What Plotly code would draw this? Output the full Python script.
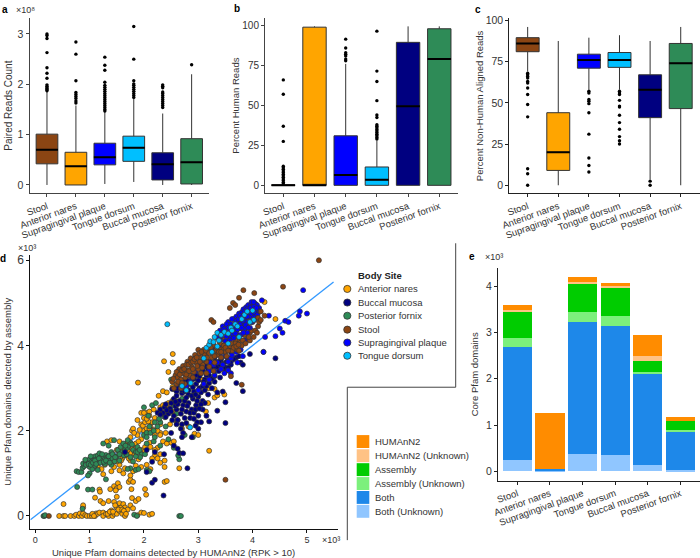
import plotly.graph_objects as go

W, H = 700, 558
SITES = ["Stool", "Anterior nares", "Supragingival plaque", "Tongue dorsum", "Buccal mucosa", "Posterior fornix"]
COLORS = ["#8B4513", "#FFA500", "#0000FF", "#00BFFF", "#000080", "#2E8B57"]

# panel a (x 1e8)
a_q1 = [0.42, 0.0, 0.40, 0.47, 0.10, 0.02]
a_med = [0.70, 0.37, 0.55, 0.74, 0.41, 0.45]
a_q3 = [1.01, 0.65, 0.83, 0.97, 0.64, 0.92]
a_low = [0.0, 0.0, 0.02, 0.06, 0.0, 0.0]
a_up = [1.85, 1.58, 1.45, 1.72, 1.42, 2.20]
a_out = [
    [1.87, 1.89, 1.91, 1.93, 1.96, 1.99, 2.12, 2.22, 2.33, 2.63, 2.91, 2.97, 3.0],
    [1.63, 1.67, 1.72, 1.76, 1.80, 1.84, 2.07, 2.60, 2.84],
    [1.47, 1.50, 1.54, 1.58, 1.62, 1.66, 1.70, 1.74, 1.78, 1.82, 1.86, 1.90, 1.94, 1.98, 2.04, 2.28, 2.38, 2.54],
    [1.74, 1.78, 1.82, 1.86, 1.90, 1.94, 1.98, 2.01, 2.07, 2.50, 3.15],
    [1.54, 1.58, 1.62, 1.66, 1.70, 1.74, 1.78, 1.82, 1.85, 1.93, 1.96, 1.99],
    [2.39],
]
# panel b (%)
b_q1 = [0, 0, 0, 0, 0, 0]
b_med = [0.1, 0.1, 6.5, 3.5, 49.5, 79]
b_q3 = [0.3, 99, 31, 11.5, 89.5, 98]
b_low = [0, 0, 0, 0, 0, 0]
b_up = [0.8, 99.5, 76, 28, 99.5, 99.5]
b_out = [
    [1, 2, 3, 4, 5, 6, 7, 8, 9, 10, 11, 12, 27.5, 37, 57, 66],
    [],
    [78, 79, 81, 82, 83, 86, 91.5],
    [29, 30, 31, 32, 33, 34, 35, 36, 37, 38, 42.5, 44, 53, 65, 71.5, 96.5],
    [],
    [],
]
# panel c (%)
c_q1 = [81, 9, 71, 71.5, 41, 46.5]
c_med = [86, 20, 76, 76, 58, 74]
c_q3 = [89.5, 44, 79.5, 80.5, 67, 86]
c_low = [69, 0, 58, 58, 3.5, 0]
c_up = [96, 87.5, 89.5, 91, 87.5, 96]
c_out = [
    [68, 67, 66, 65, 63, 62, 59, 55, 49, 41.5, 10, 7, 0],
    [],
    [57, 56, 52, 51, 49.5, 44, 31, 16.5, 12, 8],
    [57, 56, 55, 51.5, 48, 47.5, 42.5, 38, 34, 29.5, 27, 25],
    [2.5, 0],
    [],
]

# panel d (x 1e3): (HUMAnN2, assembly)
anterior_pts = [
 (0.44,0),(0.52,0),(0.55,0),(0.65,0),(0.72,0),(0.75,0.03),(0.8,0),(0.82,0.06),(0.86,0),(0.88,0.06),(0.88,0.2),(0.88,0.25),
 (0.92,0.02),(0.95,0),(1.0,0),(1.04,0),(1.1,0),(1.12,0.06),(1.15,0.05),(1.18,0.08),(1.25,0.08),(1.25,0),(1.3,0.05),(1.35,0),
 (1.38,0.08),(1.4,0.13),(1.42,0),(1.45,0.05),(1.5,0.05),(1.5,0.2),(1.55,0.12),(1.55,0.3),(1.58,0.2),(1.6,0.05),(1.62,0.28),
 (1.65,0),(1.65,0.2),(1.7,0.15),(1.75,0.25),(1.78,0.42),(1.8,0.18),(1.85,0.35),(1.88,0.02),(1.9,0.4),(1.95,0.08),(2.0,0.07),
 (2.1,0.03),(2.15,0.05),(0.52,0.28),(1.1,0.43),(1.2,0.35),(1.25,0.3),(1.35,0.35),(1.45,0.33),(1.5,0.45),(1.18,0.62),(1.19,0.57),
 (1.38,0.63),(1.45,0.7),(1.5,0.65),(1.52,0.77),(1.55,0.68),(1.48,0.6),(1.72,0.8),(1.75,0.85),(1.8,0.8),(1.75,0.95),(1.77,0.63),
 (2.02,0.63),(2.04,0.5),(2.38,0.8),(2.42,0.82),(1.25,0.98),(1.4,1.05),(1.55,1.07),(1.62,1.0),(1.65,1.12),(1.8,1.05),(1.75,1.3),
 (1.55,1.2),(1.6,1.35),(1.45,1.15),(1.28,1.2),(1.15,1.15),(1.22,1.1),(1.42,1.45),(1.55,1.45),(1.62,1.62),(1.75,1.48),(1.7,1.72),
 (1.83,1.45),(1.9,1.33),(1.95,1.55),(2.02,1.52),(1.85,1.7),(1.75,1.85),(1.78,2.0),(1.8,2.05),(1.88,1.9),(1.95,1.8),(2.0,2.0),
 (1.88,2.25),(1.95,2.15),(2.0,2.3),(2.05,2.42),(2.1,2.45),(2.15,2.2),(2.2,2.3),(2.12,2.1),(2.2,1.9),(2.3,1.95),(2.4,1.95),(2.48,2.15),
 (2.45,1.78),(2.5,1.72),(2.55,1.75),(2.25,1.6),(2.2,1.42),(2.3,1.25),(2.38,1.15),(2.15,1.35),(2.38,1.3),(2.65,1.12),(3.2,1.53),
 (1.89,3.13),(2.37,3.63),(2.53,3.8),(2.53,3.6),(2.45,3.38),(2.35,2.93),(2.42,2.9),(2.27,2.82),(2.53,3.03),(2.55,2.98),(2.1,2.35),
 (2.18,2.5),(2.3,2.55),(2.42,2.58),(2.6,2.2),(2.7,2.05),(2.82,2.1),(2.62,2.25),(2.93,1.93),(3.0,1.9),(3.14,2.45),(3.18,2.65),
 (3.3,2.78),(3.48,2.85),(3.35,2.83),(3.07,3.2),(4.42,4.62),(4.22,5.02),(1.32,1.75),(1.4,1.78),(1.5,1.55),(1.68,1.5),(2.1,1.72),
 (2.05,2.05),(2.3,2.15),(2.55,2.45),(3.2,3.0),(3.3,2.98),
 (1.55,1.75),(1.6,1.55),(1.7,1.55),(1.78,1.6),(1.85,1.58),(1.9,1.75),(1.82,1.95),(1.92,2.02),(1.98,2.12),(2.02,2.2),(2.08,2.22),
 (2.05,2.28),(1.95,2.42),(2.0,2.42),(2.1,2.05),(2.18,2.02),(2.25,2.0),(2.3,1.9),(2.35,1.75),(2.42,1.7),(1.65,1.42),(1.72,1.35),
 (1.58,1.3),(1.5,1.28),(1.42,1.3),(1.85,1.18),(1.95,1.15),(2.05,1.2),(2.12,1.1),(2.25,1.35),(2.3,1.45),(2.2,1.55),(2.12,1.62),
 (2.02,1.62),(2.35,2.6),(2.45,2.65),(2.52,2.7),(2.6,2.68),(1.05,0.05),(1.08,0),(1.33,0.05),(1.37,0.1),(1.43,0.1),(1.47,0.25),
 (1.53,0.15),(1.6,0.15),(1.63,0.12),(1.67,0.05),
]
fornix_pts = [
 (0.76,1.05),(0.8,1.03),(0.85,1.03),(0.87,1.13),(0.9,1.17),(0.88,1.23),(0.93,1.25),(0.96,1.3),(1.0,1.33),(1.03,1.27),(1.06,1.35),
 (1.1,1.4),(1.13,1.33),(1.15,1.42),(1.18,1.47),(1.2,1.37),(1.22,1.3),(1.25,1.4),(1.28,1.33),(1.3,1.43),(1.33,1.38),(1.35,1.3),
 (1.38,1.42),(1.4,1.5),(1.42,1.35),(1.46,1.28),(1.5,1.4),(1.52,1.55),(1.55,1.3),(1.6,1.5),(1.65,1.55),(1.7,1.6),(1.72,1.65),
 (1.75,1.72),(1.8,1.55),(1.85,1.5),(1.88,1.62),(1.95,1.45),(1.25,1.7),(1.35,1.65),(1.45,1.78),(1.0,1.15),(1.05,1.1),(1.0,1.0),
 (0.97,0.95),(1.1,1.18),(1.15,1.08),(0.97,0.62),(1.05,0.62),(0.77,0.68),(1.3,0.86),(0.15,0),(0.17,0),(0.18,0.02),(2.65,0),(2.68,0),
 (1.82,0.03),(1.87,0),(0.87,0.17),(1.75,1.12),(1.85,1.08),(1.9,1.1),(2.05,1.08),(2.1,1.05),(2.0,1.9),(2.05,1.95),(2.1,2.1),
 (2.25,2.1),(2.3,2.2),(2.0,2.55),(2.08,2.35),(2.15,2.6),(2.22,2.65),(2.4,2.1),(2.45,1.8),(2.65,1.33),(2.63,1.42),(2.55,1.6),
 (2.75,1.9),(2.9,1.85),(2.5,3.2),(2.63,3.4),(2.35,2.4),(2.55,2.6),(2.7,2.75),(2.6,2.4),(2.18,1.75),(2.3,1.65),(2.2,1.85),(2.05,1.7),
 (1.93,1.38),(1.8,1.28),(1.7,1.1),(1.63,1.42),(1.75,1.38),(0.92,1.32),(1.02,1.4),(1.08,1.3),(1.15,1.25),(1.28,1.22),(1.4,1.2),
 (0.93,1.2),(0.98,1.22),(1.02,1.2),(1.06,1.25),(1.1,1.3),(1.12,1.22),(1.17,1.35),(1.2,1.25),(1.23,1.45),(1.26,1.27),(1.3,1.3),
 (1.35,1.4),(1.37,1.25),(1.42,1.45),(1.47,1.38),(1.55,1.45),(1.57,1.62),(1.62,1.7),(1.66,1.65),(1.7,1.78),(1.68,1.45),(1.78,1.68),
 (1.85,1.4),(1.88,1.5),(1.92,1.55),(2.02,1.45),(2.05,1.85),(2.12,1.95),(2.18,2.0),(2.2,2.2),(2.28,2.28),(2.38,2.32),(2.48,2.48),
]
buccal_pts = [
 (2.36,0.48),(2.15,0.78),(2.2,0.85),(2.8,1.12),(2.65,1.48),(2.72,1.47),(2.55,1.65),(2.62,1.58),(2.37,1.45),(2.2,1.5),(2.15,1.27),
 (2.05,1.03),(1.65,1.5),(2.05,1.55),(2.5,1.95),(2.68,2.05),(2.72,1.95),(2.7,1.85),(2.88,1.85),(3.0,2.05),(3.05,2.2),(2.98,2.2),
 (3.2,2.22),(3.5,2.18),(3.35,2.47),(3.5,2.67),(3.35,2.9),(3.45,2.92),(3.0,2.35),(2.85,2.3),(2.7,2.15),(2.62,2.25),(2.55,2.35),
 (2.45,2.4),(2.35,2.42),(2.3,2.5),(2.38,2.55),(2.5,2.65),(2.6,2.5),(2.68,2.4),(2.78,2.45),(2.88,2.5),(2.96,2.6),(3.08,2.5),
 (3.15,2.35),(2.48,2.52),(2.55,2.75),(2.65,2.7),(2.72,2.6),(2.82,2.65),(2.9,2.75),(3.0,2.8),(3.08,2.7),(3.18,2.85),(3.25,3.0),
 (3.02,3.0),(2.92,2.92),(2.82,2.85),(2.7,2.88),(2.6,2.92),(2.65,3.05),(2.78,3.0),(2.86,3.1),(2.96,3.1),(3.08,3.05),(3.12,3.2),
 (3.02,3.28),(2.92,3.22),(2.8,3.18),(2.72,3.15),(2.85,3.3),(2.95,3.38),(3.08,3.42),(3.2,3.3),(3.3,3.15),(3.4,3.25),(3.5,3.4),
 (3.15,3.5),(3.05,3.55),(3.25,3.55),(3.35,3.5),(3.45,3.58),(3.6,3.55),(3.7,3.72),(3.75,3.75),(3.78,3.6),(3.82,3.55),(3.7,3.12),
 (3.82,2.93),(3.95,3.8),(4.42,3.7),(4.2,3.85),(3.15,3.68),(3.3,3.72),(3.42,3.68),(3.55,3.7),(3.6,3.85),(3.48,3.85),(2.6,2.82),
 (2.4,2.62),(2.52,2.98),(3.12,2.65),(2.75,2.3),
 (2.42,2.48),(2.5,2.45),(2.58,2.58),(2.62,2.62),(2.7,2.5),(2.75,2.7),(2.8,2.58),(2.85,2.42),(2.92,2.42),(2.95,2.5),(3.02,2.52),
 (3.05,2.62),(2.98,2.7),(2.88,2.82),(2.78,2.78),(2.7,2.95),(2.62,3.0),(2.58,2.68),(2.75,2.92),(2.82,2.95),(2.9,3.02),(2.95,2.85),
 (3.05,2.9),(3.12,2.95),(3.15,3.05),(3.2,3.12),(3.1,3.15),(3.0,3.18),(2.88,3.2),(2.82,3.1),(2.95,3.3),(3.05,3.35),(3.15,3.3),
 (3.25,3.22),(3.3,3.28),(3.38,3.4),(3.28,3.48),(3.18,3.42),(3.12,3.55),(3.22,3.62),(3.32,3.62),(3.4,3.55),(3.48,3.5),(3.55,3.48),
 (3.6,3.62),(3.65,3.68),(3.52,3.62),(3.38,3.62),(2.25,2.42),(2.3,2.38),(2.4,2.32),(2.52,2.25),(2.6,2.15),(2.78,2.18),(2.92,2.28),(2.95,2.12),
]
stool_top_pts = [
 (3.85,4.25),(3.95,4.3),(3.7,4.25),(3.8,4.4),(3.88,4.5),(3.92,4.62),(4.0,4.55),(4.05,4.75),(3.98,4.35),(3.84,4.35),(3.76,4.12),
 (3.9,4.15),(3.72,4.15),(3.85,4.12),(3.68,4.12),(3.6,4.2),(3.45,4.15),(3.55,4.12),
]
stool_pts = [
 (5.22,6.0),(4.56,5.38),(4.03,5.23),(3.83,5.3),(3.75,5.12),(3.64,5.0),(3.68,4.95),(3.58,4.88),(3.24,4.6),(3.28,4.55),(3.5,0.85),
 (0.25,0),(3.8,3.08),(3.6,3.28),(4.15,4.8),(4.22,4.7),(3.95,4.12),(4.05,4.35),(4.1,4.45),(4.1,4.65),(4.12,4.55),(4.15,4.6),
 (2.52,3.15),(2.58,3.3),(2.62,3.25),(2.65,3.45),(2.68,3.2),(2.72,3.52),(2.72,3.35),(2.76,3.25),(2.8,3.62),(2.8,3.42),(2.84,3.3),
 (2.86,3.7),(2.88,3.5),(2.92,3.38),(2.94,3.78),(2.96,3.6),(3.0,3.45),(3.0,3.9),(3.04,3.72),(3.08,3.55),(3.1,3.9),(3.12,3.78),
 (3.15,3.62),(3.18,3.95),(3.22,3.85),(3.25,3.72),(3.28,4.0),(3.32,3.88),(3.36,3.78),(3.4,4.05),(3.44,3.92),(3.5,3.85),
 (3.58,3.98),(3.62,3.88),(3.68,4.05),(3.72,3.9),(3.8,4.0),
 (2.55,3.0),(2.6,3.1),(2.68,3.0),(2.75,3.1),(3.3,3.6),(3.42,3.72),(3.52,3.75),
 (2.9,3.25),(3.05,3.35),(3.15,3.35),(3.28,3.4),(3.38,3.92),(3.2,3.5),(3.75,3.88),
 (2.54,3.22),(2.6,3.38),(2.63,3.15),(2.66,3.32),(2.7,3.42),(2.7,3.12),(2.74,3.45),(2.78,3.32),(2.78,3.55),(2.82,3.55),(2.83,3.4),
 (2.87,3.6),(2.9,3.62),(2.9,3.45),(2.93,3.68),(2.97,3.72),(2.98,3.52),(3.02,3.82),(3.03,3.62),(3.06,3.85),(3.07,3.48),(3.1,3.68),
 (3.14,3.88),(3.16,3.72),(3.2,3.82),(3.23,3.95),(3.27,3.82),(3.3,3.75),(3.34,3.95),(3.38,3.85),(3.42,3.85),(3.47,4.0),(3.5,3.95),
 (3.55,3.88),(3.6,4.05),(3.65,3.95),(3.7,3.98),(3.74,4.02),(3.82,4.12),(3.87,4.05),(3.93,4.2),(4.02,4.2),(4.08,4.3),
]
tongue_pts = [
 (2.43,4.5),(2.85,2.08),(2.7,3.05),(2.86,3.12),(3.15,3.95),(3.2,4.02),(3.25,3.85),(3.22,4.1),(3.3,4.2),(3.28,4.08),(3.35,4.3),
 (3.38,4.12),(3.42,4.25),(3.48,4.32),(3.55,4.28),(3.6,4.42),(3.62,4.35),(3.68,4.5),(3.72,4.45),(3.8,4.62),(3.85,4.72),(3.9,4.8),
 (4.0,4.82),(3.75,4.2),(3.35,3.98),(3.1,3.7),(2.78,2.95),(3.55,4.05),(4.02,4.6),(3.95,4.55),
]
plaque_pts = [
 (4.93,5.3),(4.17,5.06),(4.3,4.7),(4.42,4.22),(4.55,4.3),(4.5,4.4),(4.6,4.58),(4.66,4.55),(4.85,4.7),(4.87,4.8),(5.0,4.75),(4.2,3.85),(4.23,4.2),
 (3.45,3.55),(3.6,3.7),(3.7,3.85),(3.82,3.75),(3.3,3.4),(3.2,3.2),(3.1,3.1),(3.0,2.95),(3.5,3.75),(3.55,3.62),(3.78,3.9),
 (3.4,4.35),(3.45,4.45),(3.5,4.4),(3.55,4.55),(3.6,4.5),(3.58,4.35),(3.65,4.62),(3.68,4.4),(3.7,4.68),(3.72,4.55),(3.75,4.75),
 (3.75,4.4),(3.78,4.62),(3.8,4.78),(3.8,4.5),(3.83,4.85),(3.85,4.65),(3.85,4.38),(3.88,4.9),(3.88,4.75),(3.9,4.55),(3.92,4.95),
 (3.94,4.82),(3.95,4.68),(3.97,4.95),(4.0,5.0),(4.0,4.85),(4.02,4.7),(4.05,4.98),(4.05,4.85),(4.08,4.95),(4.1,4.8),(4.12,4.88),
 (3.9,4.3),(3.95,4.42),(3.6,4.2),(3.5,4.1),(3.42,4.0),(3.35,4.18),(3.3,3.95),(3.25,4.0),(3.65,4.18),(3.78,4.25),(3.85,4.12),
 (2.95,3.4),(3.0,3.5),(3.05,3.65),(3.12,3.8),(3.22,3.6),(3.4,3.8),(3.6,3.95),(2.85,3.15),(2.78,3.05),(3.45,4.3),(3.7,4.3),
 (3.98,4.55),(4.03,4.6),(3.6,3.35),(3.3,3.3),
 (3.42,4.22),(3.47,4.38),(3.52,4.5),(3.52,4.22),(3.56,4.42),(3.62,4.62),(3.63,4.28),(3.66,4.48),(3.7,4.58),(3.72,4.38),(3.74,4.62),
 (3.77,4.5),(3.77,4.7),(3.8,4.42),(3.82,4.68),(3.82,4.58),(3.86,4.8),(3.87,4.48),(3.9,4.85),(3.9,4.68),(3.92,4.42),(3.93,4.78),
 (3.96,4.88),(3.98,4.75),(4.03,4.92),(4.03,4.78),(4.07,4.88),(4.09,4.72),(4.13,4.8),(3.98,5.02),(4.02,5.02),(3.83,4.3),(3.68,4.28),
 (3.58,4.12),(3.48,4.0),(3.4,4.12),(3.2,3.4),(3.28,3.55),(3.35,3.6),(3.42,3.45),(3.62,3.78),(3.72,3.6),(3.55,3.42),(3.48,3.35),
]

# panel e (x 1e3)
both_unknown = [0.25, 0.02, 0.37, 0.36, 0.14, 0.03]
both = [2.44, 0.02, 2.85, 2.77, 1.96, 0.83]
assembly_unknown = [0.19, 0.0, 0.23, 0.22, 0.05, 0.03]
assembly = [0.57, 0.0, 0.60, 0.62, 0.23, 0.20]
humann_unknown = [0.03, 0.0, 0.04, 0.03, 0.12, 0.0]
humann = [0.11, 1.21, 0.10, 0.06, 0.45, 0.09]
E_NAMES = ["Both (Unknown)", "Both", "Assembly (Unknown)", "Assembly", "HUMAnN2 (Unknown)", "HUMAnN2"]
E_VALUES = [both_unknown, both, assembly_unknown, assembly, humann_unknown, humann]
E_COLORS = ["#90C6FF", "#1E88E9", "#7CF07C", "#00CC00", "#FFC285", "#FF8C00"]

FONT = "Liberation Sans, Arial, sans-serif"
TXT = "#333333"
fig = go.Figure()


def add_boxes(xa, ya, q1, med, q3, low, up, out, box_px):
    for i, s in enumerate(SITES):
        fig.add_trace(go.Box(x=[s], q1=[q1[i]], median=[med[i]], q3=[q3[i]], lowerfence=[low[i]], upperfence=[up[i]],
                             xaxis=xa, yaxis=ya, width=0.75, fillcolor=COLORS[i], whiskerwidth=0, boxpoints=False,
                             line=dict(color="#333333", width=1), name=s, showlegend=False))
        if out[i]:
            fig.add_trace(go.Scatter(x=[s] * len(out[i]), y=out[i], mode="markers", xaxis=xa, yaxis=ya, showlegend=False,
                                     marker=dict(color="black", size=3.4)))
    fig.add_trace(go.Scatter(x=SITES, y=med, mode="markers", xaxis=xa, yaxis=ya, showlegend=False,
                             marker=dict(symbol="line-ew", size=box_px / 1.4, line=dict(color="black", width=2))))


add_boxes("x", "y", a_q1, a_med, a_q3, a_low, a_up, a_out, 22)
add_boxes("x2", "y2", b_q1, b_med, b_q3, b_low, b_up, b_out, 23.5)
add_boxes("x3", "y3", c_q1, c_med, c_q3, c_low, c_up, c_out, 23)

fig.add_trace(go.Scatter(x=[-0.09, 5.49], y=[-0.09, 5.49], mode="lines", xaxis="x4", yaxis="y4", showlegend=False,
                         line=dict(color="#3399FF", width=1.3)))
for pts, c, nm in [(anterior_pts, "#FFA500", "Anterior nares"), (fornix_pts, "#2E8B57", "Posterior fornix"),
                   (buccal_pts, "#000080", "Buccal mucosa"), (stool_top_pts, "#8B4513", "Stool"),
                   (plaque_pts, "#0000FF", "Supragingival plaque"),
                   (stool_pts, "#8B4513", "Stool"), (tongue_pts, "#00BFFF", "Tongue dorsum")]:
    fig.add_trace(go.Scatter(x=[p[0] for p in pts], y=[p[1] for p in pts], mode="markers", xaxis="x4", yaxis="y4",
                             name=nm, showlegend=False,
                             marker=dict(color=c, size=5, line=dict(color="#333333", width=0.7))))

for nm, vals, c in zip(E_NAMES, E_VALUES, E_COLORS):
    fig.add_trace(go.Bar(x=SITES, y=vals, name=nm, marker=dict(color=c, line=dict(width=0)), xaxis="x5", yaxis="y5",
                         width=0.9, showlegend=False))


def xd(l, r):
    return [l / W, r / W]


def yd(b, t):
    return [1 - b / H, 1 - t / H]


def axis(dom, anchor, rng, color="#444444", lw=1, size=10, **kw):
    d = dict(domain=dom, anchor=anchor, range=rng, showline=True, linecolor=color, linewidth=lw, ticks="outside",
             ticklen=3, tickcolor=color, tickwidth=lw, showgrid=False, zeroline=False,
             tickfont=dict(family=FONT, size=size, color=TXT))
    d.update(kw)
    return d


def cat_axis(dom, anchor, rng, color="#444444"):
    return axis(dom, anchor, rng, color=color, size=9.5, type="category", categoryorder="array", categoryarray=SITES,
                tickangle=-20, automargin=False)


def ytitle(t, standoff, size=9.5):
    return dict(text=t, font=dict(family=FONT, size=size, color=TXT), standoff=standoff)


fig.update_layout(
    width=W, height=H, autosize=False, margin=dict(l=0, r=0, t=0, b=0), paper_bgcolor="white", plot_bgcolor="white",
    barmode="stack", bargap=0.1, boxmode="overlay",
    xaxis=cat_axis(xd(29.5, 209), "y", [-0.604, 5.6]),
    yaxis=axis(yd(190.7, 14), "x", [-0.166, 3.32], size=10.5, tickvals=[0, 1, 2, 3], title=ytitle("Paired Reads Count", 3, 10)),
    xaxis2=cat_axis(xd(265, 458), "y2", [-0.587, 5.6]),
    yaxis2=axis(yd(190.7, 14), "x2", [-5, 104.8], size=10, tickvals=[0, 25, 50, 75, 100], title=ytitle("Percent Human Reads", 0)),
    xaxis3=cat_axis(xd(509.3, 700), "y3", [-0.6, 5.63], color="#222222"),
    yaxis3=axis(yd(190.7, 14.5), "x3", [-4.9, 101.2], color="#222222", size=10.5, tickvals=[0, 25, 50, 75, 100], title=ytitle("Percent Non-Human Aligned Reads", 0)),
    xaxis4=axis(xd(30.3, 337.7), "y4", [-0.092, 5.566], color="#111111", size=9, tickvals=[0, 1, 2, 3, 4, 5]),
    yaxis4=axis(yd(528.3, 253), "x4", [-0.294, 6.12], color="#111111", size=12, tickvals=[0, 2, 4, 6],
                title=ytitle("Unique Pfam domains detected by assembly", 3)),
    xaxis5=cat_axis(xd(498, 700), "y5", [-0.592, 5.6], color="#222222"),
    yaxis5=axis(yd(480, 266), "x5", [-0.2, 4.39], color="#222222", size=10.5, tickvals=[0, 1, 2, 3, 4], title=ytitle("Core Pfam domains", 5)),
)

annotations = []
shapes = []


def text(x, y, s, size=10, bold=False, anchor="left", color=TXT):
    annotations.append(dict(x=x / W, y=1 - y / H, xref="paper", yref="paper", text=f"<b>{s}</b>" if bold else s, showarrow=False,
                            xanchor=anchor, yanchor="middle", font=dict(family=FONT, size=size, color=color)))


for s, x, y in [("a", 5, 6), ("b", 237, 5), ("c", 478, 6), ("d", 3, 256), ("e", 472, 254)]:
    text(x, y, s, size=10, bold=True, anchor="center", color="black")
for s, x, y in [("×10⁸", 14, 6), ("×10³", 16, 246), ("×10³", 320, 540), ("×10³", 483, 255)]:
    text(x, y, s, size=9)
text(173, 552.7, "Unique Pfam domains detected by HUMAnN2 (RPK > 10)", size=9.5, anchor="center")

text(356, 273, "Body Site", size=9.5, bold=True, color="#222222")
for nm, c, y in zip(["Anterior nares", "Buccal mucosa", "Posterior fornix", "Stool", "Supragingival plaque", "Tongue dorsum"],
                    ["#FFA500", "#000080", "#2E8B57", "#8B4513", "#0000FF", "#00BFFF"],
                    [287, 300.7, 314, 328, 341, 354.3]):
    shapes.append(dict(type="circle", xref="paper", yref="paper", x0=(347.3 - 3.6) / W, x1=(347.3 + 3.6) / W,
                       y0=1 - (y + 3.6) / H, y1=1 - (y - 3.6) / H, fillcolor=c, line=dict(color="#333333", width=0.8)))
    text(356, y, nm, size=9.5)

for nm, c, y in zip(E_NAMES[::-1], E_COLORS[::-1], [440.7, 455, 469, 483, 497, 511]):
    shapes.append(dict(type="rect", xref="paper", yref="paper", x0=356.7 / W, x1=369.3 / W, y0=1 - (y + 6.5) / H, y1=1 - (y - 6.5) / H,
                       fillcolor=c, line=dict(width=0)))
    text(373, y, nm, size=9.5)

for x0, y0, x1, y1 in [(455.7, 241, 455.7, 386), (455.7, 386, 347.3, 386), (347.3, 386, 347.3, 540)]:
    shapes.append(dict(type="line", xref="paper", yref="paper", x0=x0 / W, x1=x1 / W, y0=1 - y0 / H, y1=1 - y1 / H,
                       line=dict(color="#444444", width=1)))

fig.update_layout(annotations=annotations, shapes=shapes)
fig.write_html("out.html", config=dict(displayModeBar=False),
               post_script="document.body.style.margin='0';document.body.style.overflow='hidden';")
